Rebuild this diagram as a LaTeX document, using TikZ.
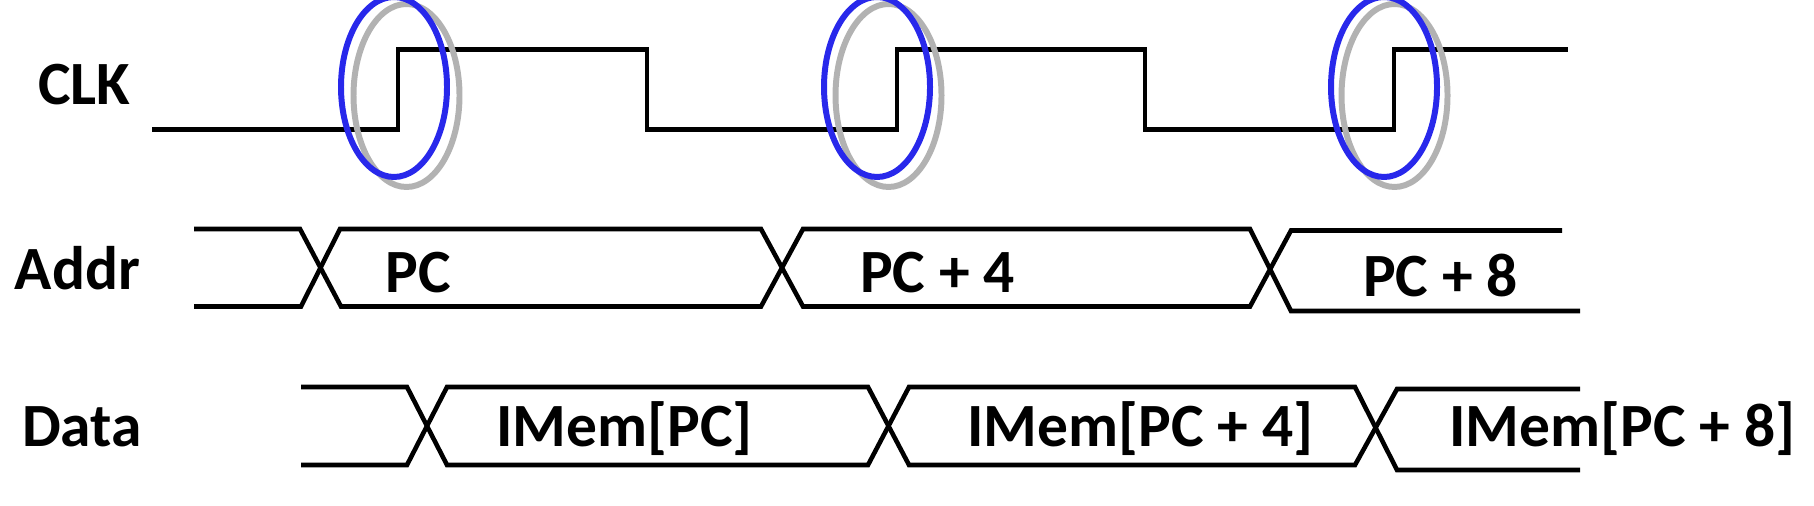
\documentclass[tikz,border=0pt]{standalone}
\usepackage{fontspec}
\setmainfont{Carlito}
\definecolor{ringblue}{RGB}{40,40,235}
\definecolor{ringgray}{RGB}{178,178,178}
\tikzset{
    sig/.style={line width=1.3pt, black},
    lbl/.style={font=\fontsize{17.5}{21}\selectfont\bfseries, inner sep=0pt, anchor=base},
    ringb/.style={line width=1.7pt, ringblue},
    ringg/.style={line width=1.7pt, ringgray}
}
\begin{document}
\begin{tikzpicture}
    \useasboundingbox (0,0) rectangle (18.14,5.06);

    % --- SIGNAL NAMES ---
    \node[lbl] (clk) at (0.845, 4.01) {CLK};
    \node[lbl] (addr) at (0.775, 2.16) {Addr};
    \node[lbl] (data) at (0.82, 0.59) {Data};

    % --- CLK ---
    \draw[sig] (1.52, 3.764) -- (3.98, 3.764) -- (3.98, 4.563) -- (6.47, 4.563)
        -- (6.47, 3.764) -- (8.97, 3.764) -- (8.97, 4.563) -- (11.45, 4.563)
        -- (11.45, 3.764) -- (13.94, 3.764) -- (13.94, 4.563) -- (15.68, 4.563);

    % --- ADDR BUS ---
    \draw[sig] (1.94, 2.77) -- (3.00, 2.77) -- (3.41, 1.995) -- (7.61, 1.995)
        -- (8.03, 2.77) -- (12.50, 2.77) -- (12.91, 1.95) -- (15.80, 1.95);
    \draw[sig] (1.94, 1.995) -- (3.01, 1.995) -- (3.40, 2.77) -- (7.61, 2.77)
        -- (8.03, 1.995) -- (12.50, 1.995) -- (12.91, 2.755) -- (15.62, 2.755);

    \node[lbl] (pc) at (4.185, 2.13) {PC};
    \node[lbl] (pc4) at (9.375, 2.13) {PC + 4};
    \node[lbl] (pc8) at (14.405, 2.09) {PC + 8};

    % --- DATA BUS ---
    \draw[sig] (3.01, 1.19) -- (4.07, 1.19) -- (4.47, 0.41) -- (8.68, 0.41)
        -- (9.09, 1.19) -- (13.55, 1.19) -- (13.97, 0.36) -- (15.80, 0.36);
    \draw[sig] (3.01, 0.41) -- (4.07, 0.41) -- (4.47, 1.19) -- (8.68, 1.19)
        -- (9.09, 0.41) -- (13.55, 0.41) -- (13.97, 1.17) -- (15.80, 1.17);

    \node[lbl] (mem) at (6.245, 0.59) {IMem[PC]};
    \node[lbl] (mem4) at (11.405, 0.59) {IMem[PC + 4]};
    \node[lbl] (mem8) at (16.225, 0.59) {IMem[PC + 8]};

    % --- RISING EDGE RINGS ---
    \draw[ringg] (4.065, 4.105) ellipse (0.53 and 0.915);
    \draw[ringg] (8.885, 4.105) ellipse (0.53 and 0.915);
    \draw[ringg] (13.945, 4.105) ellipse (0.53 and 0.915);

    \draw[ringb] (3.94, 4.19) ellipse (0.53 and 0.90);
    \draw[ringb] (8.77, 4.19) ellipse (0.53 and 0.90);
    \draw[ringb] (13.84, 4.19) ellipse (0.53 and 0.90);
\end{tikzpicture}
\end{document}
